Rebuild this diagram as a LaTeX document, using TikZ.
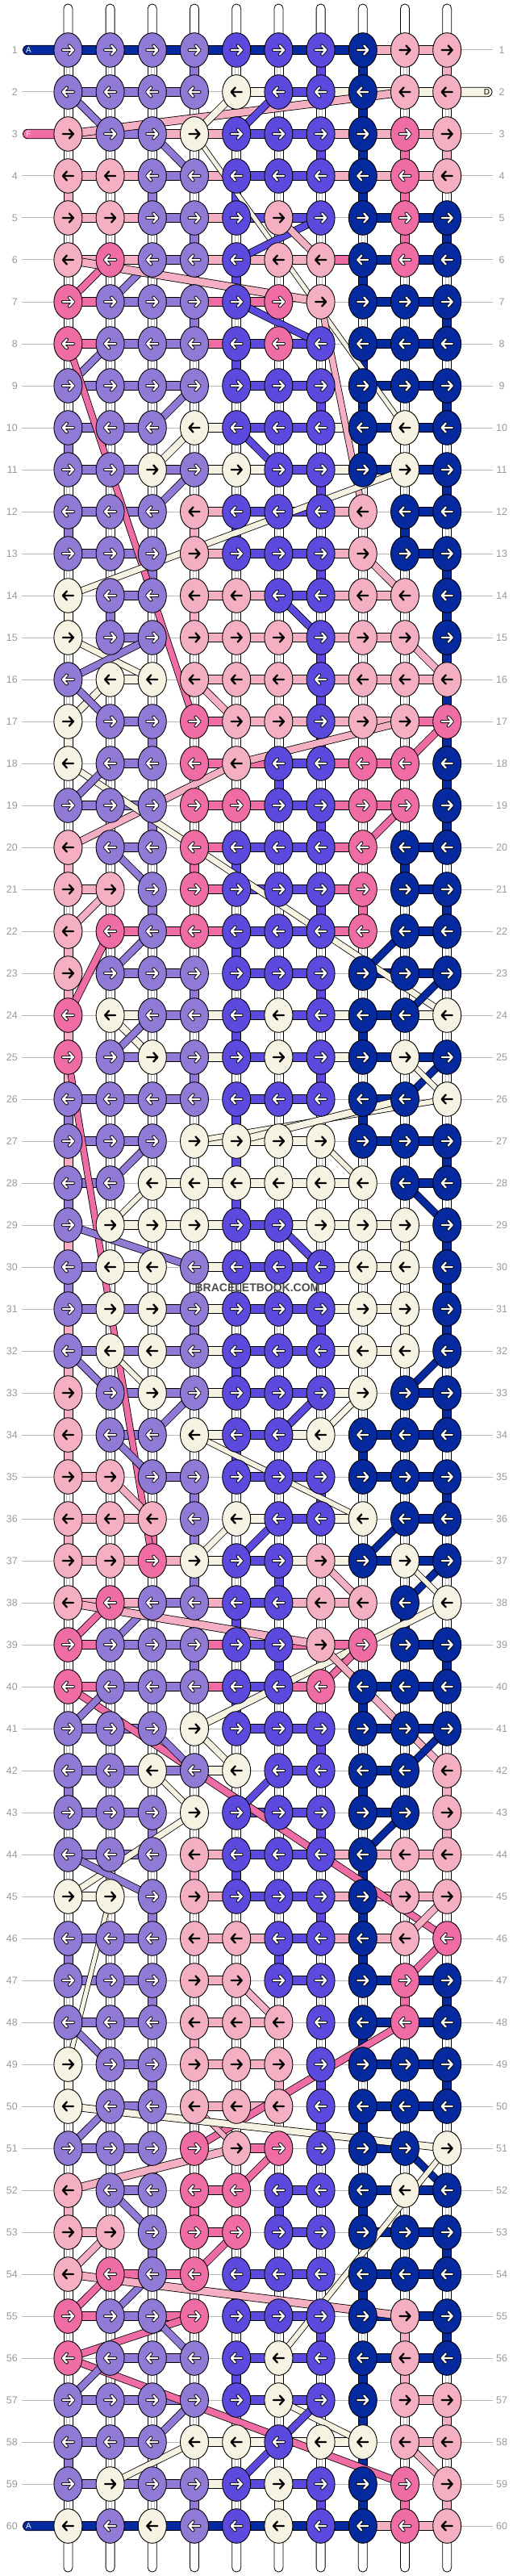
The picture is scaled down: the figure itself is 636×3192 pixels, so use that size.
\documentclass[tikz,border=0pt]{standalone}
\usepackage{fontspec}
\setmainfont{Liberation Sans}
\usetikzlibrary{calc,shapes.geometric}
\definecolor{cL}{HTML}{907AD6}
\definecolor{cM}{HTML}{5C49DE}
\definecolor{cD}{HTML}{05299E}
\definecolor{cP}{HTML}{F4AFC2}
\definecolor{cH}{HTML}{F06CA5}
\definecolor{cC}{HTML}{F6F3E2}
\definecolor{cW}{HTML}{FFFFFF}
\colorlet{aL}{white}\colorlet{aM}{white}\colorlet{aD}{white}\colorlet{aH}{white}
\colorlet{aP}{black}\colorlet{aC}{black}
\colorlet{oL}{black}\colorlet{oM}{black}\colorlet{oD}{black}\colorlet{oH}{black}
\colorlet{oP}{cP}\colorlet{oC}{cC}
\tikzset{
 rowline/.style={draw=black!28, line width=1},
 rowlab/.style={text=black!40, font=\fontsize{12.5}{14}\selectfont, inner sep=0},
 vseg/.style={draw=black, line width=0.8},
 hseg/.style={draw=black, line width=0.8},
 knot/.style={ellipse, draw=black, line width=0.9, minimum width=35, minimum height=42.6, inner sep=0},
 arrline/.style={line width=2.3, line cap=round, line join=round},
 arroutline/.style={line width=4, line cap=round, line join=round},
 pill/.style={draw=black, fill=white, line width=0.8, rounded corners=5.4},
 endlab/.style={font=\fontsize{10}{10}\selectfont, inner sep=0},
}
\begin{document}
\begin{tikzpicture}[x=1pt,y=-1pt]
\useasboundingbox (0,0) rectangle (636,3192);
\fill[white] (0,0) rectangle (636,3192);
% knot positions
\foreach \r in {1,...,60}{
  \foreach \c in {1,...,10}{
    \coordinate (k-\r-\c) at ({84.4+52.2*(\c-1)},{62+52*(\r-1)});
  }
}
% row lines and labels
\foreach \r in {1,...,60}{
  \pgfmathsetmacro\yy{62+52*(\r-1)}
  \coordinate (lineL-\r) at (27,\yy);
  \coordinate (lineR-\r) at (611,\yy);
  \draw[rowline] (lineL-\r) -- (lineR-\r);
  \node[rowlab, anchor=east] (labL-\r) at (22,\yy) {\r};
  \node[rowlab] (labR-\r) at (622,\yy) {\r};
}
% top and bottom string ends
\foreach \c in {1,...,10}{
  \pgfmathsetmacro\xx{84.4+52.2*(\c-1)}
  \coordinate (top-\c) at (\xx,5);
  \coordinate (bot-\c) at (\xx,3187);
  \draw[pill] ($(k-1-\c)+(-5.5,0)$) -- ($(top-\c)+(-5.5,0)$) -- ($(top-\c)+(5.5,0)$) -- ($(k-1-\c)+(5.5,0)$);
  \draw[pill] ($(k-60-\c)+(-5.5,0)$) -- ($(bot-\c)+(-5.5,0)$) -- ($(bot-\c)+(5.5,0)$) -- ($(k-60-\c)+(5.5,0)$);
}
% vertical connectors
\foreach \r/\vs in {
1/{W,W,W,L,W,W,M,D,W,P},2/{W,W,W,W,W,W,W,D,W,W},3/{W,W,W,W,W,W,M,D,H,P},4/{P,W,L,W,M,W,W,D,H,W},
5/{W,W,W,L,W,W,W,W,H,D},6/{W,W,W,W,M,W,W,D,W,W},7/{W,W,W,L,W,W,W,W,W,D},8/{W,W,W,W,M,W,W,D,W,W},
9/{W,W,W,W,W,W,M,D,W,D},10/{L,W,W,W,W,W,W,D,W,W},11/{W,W,W,W,W,W,M,W,W,D},12/{L,W,W,P,M,W,W,W,D,W},
13/{W,W,L,W,W,W,M,W,W,D},14/{C,L,W,P,W,W,W,W,W,D},15/{W,W,W,W,W,W,M,W,W,D},16/{W,W,W,W,W,W,M,W,W,D},
17/{C,W,L,W,W,W,M,W,W,D},18/{W,W,W,W,W,M,W,W,W,D},19/{W,W,L,W,W,W,M,W,W,D},20/{P,W,W,H,M,W,W,W,D,W},
21/{W,W,L,W,W,W,M,H,W,D},22/{P,W,W,W,M,W,W,W,W,W},23/{P,W,W,L,W,W,M,W,W,W},24/{P,W,W,W,M,W,W,D,W,W},
25/{P,W,W,L,W,W,M,W,W,W},26/{L,W,W,W,M,W,W,D,W,W},27/{P,W,W,W,M,W,W,W,W,D},28/{L,W,W,W,M,W,W,W,W,W},
29/{P,W,W,W,W,W,W,W,C,D},30/{L,W,W,W,W,W,W,W,W,D},31/{P,W,W,L,W,W,M,W,C,D},32/{P,W,W,W,M,W,W,W,W,W},
33/{P,W,W,W,W,W,W,W,W,D},34/{P,W,W,W,M,W,W,D,W,W},35/{W,W,W,L,W,W,M,W,W,D},36/{P,W,H,L,W,W,W,W,W,W},
37/{W,W,W,L,W,M,W,W,W,W},38/{W,W,W,W,M,W,W,W,D,W},39/{W,W,W,L,W,M,W,W,W,D},40/{W,W,W,W,M,W,W,D,W,W},
41/{W,W,W,W,W,W,M,W,W,W},42/{L,W,W,W,W,W,W,D,W,P},43/{W,W,L,W,W,W,M,W,W,P},44/{W,W,W,P,M,W,W,D,W,W},
45/{W,W,L,W,W,W,M,D,W,W},46/{L,W,W,W,W,M,W,D,W,W},47/{W,W,L,W,W,W,W,W,H,D},48/{W,W,W,P,W,W,W,D,W,W},
49/{C,W,L,W,W,P,M,W,W,D},50/{W,W,W,W,W,W,M,D,W,W},51/{W,W,L,W,W,W,W,W,W,W},52/{P,W,W,H,W,M,W,D,W,W},
53/{W,W,L,W,W,W,W,W,W,D},54/{W,W,W,W,M,W,W,D,W,W},55/{W,W,W,W,W,W,M,W,P,D},56/{W,W,W,W,M,C,W,D,P,W},
57/{W,W,W,W,W,W,W,D,W,P},58/{L,W,W,W,W,W,W,D,W,W},59/{W,W,W,L,W,C,M,D,H,P}}{
  \pgfmathtruncatemacro\rn{\r+1}
  \foreach \v [count=\c] in \vs {
    \draw[vseg, fill=c\v] ($(k-\r-\c)+(-5.5,0)$) rectangle ($(k-\rn-\c)+(5.5,0)$);
    \if\v W
      \draw[black!25, line width=0.6] ($(k-\r-\c)+(-2,0)$) -- ($(k-\rn-\c)+(-2,0)$);
      \draw[black!25, line width=0.6] ($(k-\r-\c)+(2,0)$) -- ($(k-\rn-\c)+(2,0)$);
    \fi
  }
}
% entering row strings
\coordinate (startA1) at (28.5,62);
\coordinate (startF3) at (28.5,166);
\coordinate (startA60) at (28.5,3130);
\coordinate (endD2) at (610,114);
\draw[hseg, fill=cD, rounded corners=5.8] ($(startA1)+(0,-5.8)$) rectangle ($(k-1-1)+(0,5.8)$);
\draw[hseg, fill=cH, rounded corners=5.8] ($(startF3)+(0,-5.8)$) rectangle ($(k-3-1)+(0,5.8)$);
\draw[hseg, fill=cD, rounded corners=5.8] ($(startA60)+(0,-5.8)$) rectangle ($(k-60-1)+(0,5.8)$);
\draw[hseg, fill=cC, rounded corners=5.8] ($(k-2-10)+(0,-5.8)$) rectangle ($(endD2)+(0,5.8)$);
\node[endlab, text=white] (labA1) at (35.5,62) {A};
\node[endlab, text=white] (labF3) at (35.5,166) {F};
\node[endlab, text=white] (labA60) at (35.5,3130) {A};
\node[endlab, text=black] (labD2) at (603.5,114) {D};
% horizontal bars
\foreach \r/\hs in {
1/{D,D,D,D,D,D,D,P,P},2/{L,L,L,N,C,M,C,C,C},3/{P,L,P,P,M,M,P,P,P},4/{P,P,L,P,M,M,P,P,P},
5/{P,P,L,P,M,M,N,D,D},6/{P,P,L,P,P,P,H,D,D},7/{H,L,L,H,H,N,N,D,D},8/{H,L,L,H,M,M,N,D,D},
9/{L,L,L,N,M,M,N,D,D},10/{L,L,N,C,M,M,C,D,D},11/{L,L,L,C,C,M,C,D,D},12/{L,L,N,P,M,M,P,N,D},
13/{L,L,N,P,M,M,P,N,D},14/{N,L,N,P,P,M,P,P,N},15/{N,L,N,P,P,P,P,P,N},16/{N,C,N,P,P,P,P,P,P},
17/{N,L,N,H,P,P,P,P,H},18/{N,L,N,H,H,M,H,H,N},19/{L,L,N,H,H,M,H,H,N},20/{N,L,N,H,M,M,H,N,D},
21/{P,N,N,H,M,M,H,N,D},22/{N,H,H,H,M,M,H,N,D},23/{N,L,L,N,M,M,N,D,D},24/{N,C,L,C,M,M,C,D,C},
25/{N,L,L,C,M,M,C,D,D},26/{L,L,L,N,M,M,N,D,N},27/{L,L,N,C,C,C,N,D,D},28/{L,N,C,C,C,C,C,N,D},
29/{N,C,C,C,M,C,C,C,N},30/{L,C,N,C,M,M,C,C,N},31/{L,L,L,C,M,M,C,C,N},32/{L,L,L,C,M,M,C,C,N},
33/{N,L,L,C,M,M,C,N,D},34/{N,L,N,C,M,C,N,D,D},35/{P,N,L,N,M,M,N,D,D},36/{P,P,N,N,C,M,C,N,D},
37/{P,P,P,C,M,C,C,D,D},38/{P,P,L,P,M,P,P,N,N},39/{H,L,L,H,M,H,H,N,D},40/{H,L,L,H,M,H,N,D,D},
41/{L,L,N,N,M,M,N,D,D},42/{L,L,L,C,N,M,N,D,N},43/{L,L,N,N,M,M,N,D,N},44/{L,L,N,P,M,M,P,P,P},
45/{C,N,N,P,M,M,P,P,P},46/{L,L,N,P,P,M,P,P,N},47/{L,L,N,P,N,M,N,D,D},48/{L,L,N,P,P,N,N,D,D},
49/{N,L,N,P,P,N,N,D,D},50/{N,L,N,P,P,N,N,D,D},51/{L,L,N,N,H,N,N,D,N},52/{N,L,N,H,N,M,N,D,D},
53/{P,N,N,H,N,M,N,D,D},54/{N,H,H,N,M,M,N,D,D},55/{H,L,H,N,M,M,N,D,D},56/{N,L,L,N,M,M,N,D,D},
57/{L,L,L,N,M,M,N,N,P},58/{L,L,N,C,C,C,C,N,P},59/{L,L,L,C,M,M,N,N,N},60/{D,D,D,D,D,D,D,P,P}}{
  \foreach \h [count=\c] in \hs {
    \if\h N\else
      \pgfmathtruncatemacro\cn{\c+1}
      \draw[hseg, fill=c\h] ($(k-\r-\c)+(0,-5.8)$) rectangle ($(k-\r-\cn)+(0,5.8)$);
    \fi
  }
}
% diagonal strings
\foreach \col/\ra/\ca/\rb/\cb/\w in {
L/2/1/3/2/8, P/2/9/3/1/9, C/2/5/3/4/8, M/2/6/3/5/8, L/3/3/4/4/8, C/3/4/10/9/5,
M/5/7/6/5/8, P/5/6/6/7/8, H/6/2/7/1/8, L/6/3/7/2/8, P/6/1/7/7/9, M/7/5/8/7/8,
P/7/7/12/8/7, L/8/2/9/1/8, H/8/1/17/4/7, L/9/4/10/3/8, C/10/4/11/3/8, M/10/5/11/6/8,
L/11/4/12/3/8, C/11/9/14/1/7, P/13/8/14/9/8, M/14/6/15/7/8, C/15/1/16/3/7, L/15/3/16/1/8,
C/16/2/17/1/8, L/16/1/17/2/8, P/16/4/17/5/8, P/15/9/16/10/8, P/17/9/18/5/8, P/18/5/20/1/8,
H/17/10/18/9/8, C/18/1/24/10/7, L/18/2/19/1/8, H/19/9/20/8/8, L/20/2/21/3/8, P/21/2/22/1/8,
H/22/2/24/1/8, L/22/3/23/2/8, D/22/9/23/8/8, D/23/10/24/9/8, C/24/2/25/3/8, L/24/3/25/2/8,
H/25/1/37/3/7, D/25/10/26/9/8, C/25/9/26/10/6, C/26/10/27/4/6, C/26/9/27/5/8, L/27/3/28/2/8,
C/27/7/28/8/6, D/28/9/29/10/8, C/28/3/29/2/6, L/29/1/30/4/8, M/29/6/30/7/8, L/32/1/33/2/8,
C/32/2/33/3/6, L/33/4/34/3/8, M/33/7/34/6/8, C/33/8/34/7/7, D/32/10/33/9/8, C/34/4/36/8/6,
L/34/2/35/3/8, P/35/2/36/3/8, C/36/5/37/4/7, M/36/6/37/5/8, D/36/9/37/8/8, P/37/7/38/8/8,
D/37/10/38/9/8, C/37/9/38/10/6, H/38/2/39/1/8, L/38/3/39/2/8, P/38/1/39/7/9, C/38/10/41/4/8,
H/39/8/40/7/8, P/39/7/41/9/8, P/41/9/42/10/8, H/40/1/46/10/8, L/40/2/41/1/8, L/41/3/42/4/8,
C/41/4/42/5/7, M/42/6/43/5/8, C/42/3/43/4/6, D/41/10/42/9/8, C/43/4/45/1/7, D/43/9/44/8/8,
L/44/1/45/3/8, C/45/2/49/1/5, P/45/10/46/9/8, H/46/10/47/9/8, L/48/1/49/2/8, P/47/5/48/6/8,
H/48/9/51/4/8, P/50/4/51/5/6, C/50/1/51/10/8, L/50/2/51/1/8, P/51/5/52/1/9, H/51/6/52/5/8,
D/51/9/52/10/8, C/51/10/56/6/6, L/52/2/53/3/8, P/53/2/54/1/8, H/53/5/54/4/8, H/54/2/55/1/8,
L/54/3/55/2/8, P/54/1/55/9/9, H/55/4/56/1/8, L/55/3/56/4/8, H/56/1/59/9/8, L/56/2/57/1/8,
L/57/4/58/3/8, C/57/6/58/8/7, M/57/7/58/6/8, M/58/6/59/5/8, C/58/4/59/2/7, P/58/9/59/10/8}{
  \draw[line width={\w+1.6}, black] (k-\ra-\ca) -- (k-\rb-\cb);
  \draw[line width=\w, c\col] (k-\ra-\ca) -- (k-\rb-\cb);
}
% knots
\foreach \r/\ks in {
1/{L,L,L,L,M,M,M,D,P,P},2/{L,L,L,L,C,M,M,D,P,P},3/{P,L,L,C,M,M,M,D,H,P},4/{P,P,L,L,M,M,M,D,H,P},
5/{P,P,L,L,M,P,M,D,H,D},6/{P,H,L,L,M,P,P,D,H,D},7/{H,L,L,L,M,H,P,D,D,D},8/{H,L,L,L,M,H,M,D,D,D},
9/{L,L,L,L,M,M,M,D,D,D},10/{L,L,L,C,M,M,M,D,C,D},11/{L,L,C,L,C,M,M,D,C,D},12/{L,L,L,P,M,M,M,P,D,D},
13/{L,L,L,P,M,M,M,P,D,D},14/{C,L,L,P,P,M,M,P,P,D},15/{C,L,L,P,P,P,M,P,P,D},16/{L,C,C,P,P,P,M,P,P,P},
17/{C,L,L,H,P,P,M,P,P,H},18/{C,L,L,H,P,M,M,H,H,D},19/{L,L,L,H,H,M,M,H,H,D},20/{P,L,L,H,M,M,M,H,D,D},
21/{P,P,L,H,M,M,M,H,D,D},22/{P,H,L,H,M,M,M,H,D,D},23/{P,L,L,L,M,M,M,D,D,D},24/{H,C,L,L,M,C,M,D,D,C},
25/{H,L,C,L,M,C,M,D,C,D},26/{L,L,L,L,M,M,M,D,D,C},27/{L,L,L,C,C,C,C,D,D,D},28/{L,L,C,C,C,C,C,C,D,D},
29/{L,C,C,C,M,M,C,C,C,D},30/{L,C,C,L,M,M,M,C,C,D},31/{L,C,C,L,M,M,M,C,C,D},32/{L,C,C,L,M,M,M,C,C,D},
33/{P,L,C,L,M,M,M,C,D,D},34/{P,L,L,C,M,M,C,D,D,D},35/{P,P,L,L,M,M,M,D,D,D},36/{P,P,P,L,C,M,M,C,D,D},
37/{P,P,H,C,M,M,P,D,C,D},38/{P,H,L,L,M,M,P,P,D,C},39/{H,L,L,L,M,M,P,H,D,D},40/{H,L,L,L,M,M,H,D,D,D},
41/{L,L,L,C,M,M,M,D,D,D},42/{L,L,C,L,C,M,M,D,D,P},43/{L,L,L,C,M,M,M,D,D,P},44/{L,L,L,P,M,M,M,D,P,P},
45/{C,C,L,P,M,M,M,D,P,P},46/{L,L,L,P,P,M,M,D,P,H},47/{L,L,L,P,P,M,M,D,H,D},48/{L,L,L,P,P,P,M,D,H,D},
49/{C,L,L,P,P,P,M,D,D,D},50/{C,L,L,P,P,P,M,D,D,D},51/{L,L,L,H,P,H,M,D,D,C},52/{P,L,L,H,H,M,M,D,C,D},
53/{P,P,L,H,H,M,M,D,D,D},54/{P,H,L,H,M,M,M,D,D,D},55/{H,L,L,H,M,M,M,D,P,D},56/{H,L,L,L,M,C,M,D,P,D},
57/{L,L,L,L,M,C,M,D,P,P},58/{L,L,L,C,C,M,C,C,P,P},59/{L,C,L,L,M,C,M,D,H,P},60/{C,L,C,L,M,C,M,D,H,P}}{
  \ifodd\r\relax\def\dir{1}\else\def\dir{-1}\fi
  \foreach \k [count=\c] in \ks {
    \node[knot, fill=c\k] (n-\r-\c) at (k-\r-\c) {};
    \begin{scope}[shift={(k-\r-\c)}, xscale=\dir]
      \draw[arroutline, o\k] (-6.5,0) -- (6.5,0) (1.5,-5.5) -- (6.5,0) -- (1.5,5.5);
      \draw[arrline, a\k] (-6.5,0) -- (6.5,0) (1.5,-5.5) -- (6.5,0) -- (1.5,5.5);
    \end{scope}
  }
}
% watermark
\node[font=\bfseries\fontsize{14}{14}\selectfont, text=black!70, inner sep=0] (wm) at (319,1596) {BRACELETBOOK.COM};
\end{tikzpicture}
\end{document}
